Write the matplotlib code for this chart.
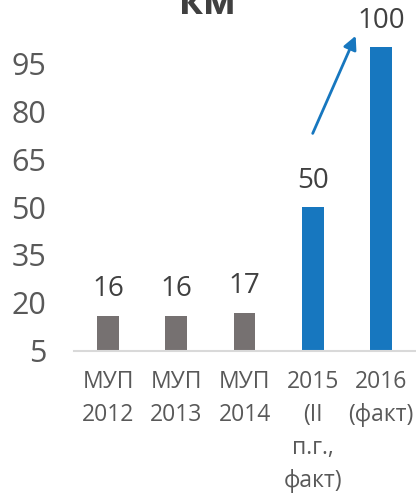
import matplotlib
matplotlib.use("Agg")
import matplotlib.pyplot as plt

plt.rcParams['font.family'] = ['Open Sans', 'DejaVu Sans']

categories = ["МУП\n2012", "МУП\n2013", "МУП\n2014", "2015\n(II\nп.г.,\nфакт)", "2016\n(факт)"]
values = [16, 16, 17, 50, 100]
bar_colors = ["#767171", "#767171", "#767171", "#1777BF", "#1777BF"]
yticks = [5, 20, 35, 50, 65, 80, 95]

fig = plt.figure(figsize=(4.16, 4.94), dpi=100)
ax = fig.add_axes([74/416, (494-351)/494, 341/416, 336/494])

x = range(len(categories))
ax.bar(x, values, width=0.32, color=bar_colors, zorder=2)
ax.set_xlim(-0.5, 4.5)
ax.set_ylim(5, 110)

for xi, v in zip(x, values):
    ax.annotate(str(v), (xi, v), xytext=(0, 9), textcoords="offset points",
                ha="center", va="bottom", fontsize=20, color="#404040")

# growth arrow
ax.annotate("", xy=(3.63, 103.5), xytext=(3.0, 73),
            arrowprops=dict(arrowstyle="-|>", color="#1777BF", lw=2,
                            mutation_scale=20, shrinkA=0, shrinkB=0))

ax.set_xticks(list(x))
ax.set_xticklabels(categories, fontsize=16.5, color="#595959", linespacing=1.5)
ax.set_yticks(yticks)
ax.set_yticklabels([str(t) for t in yticks], fontsize=22, color="#595959")
ax.tick_params(axis="x", length=0, pad=14)
ax.tick_params(axis="y", length=0, pad=20)

for s in ["top", "right", "left"]:
    ax.spines[s].set_visible(False)
ax.spines["bottom"].set_color("#D9D9D9")
ax.spines["bottom"].set_linewidth(1.5)

fig.text(207/416, 1.0 - 4/494, "км", ha="center", va="center", fontsize=28,
         fontweight="bold", color="#404040")

fig.savefig("out.png", dpi=100)
